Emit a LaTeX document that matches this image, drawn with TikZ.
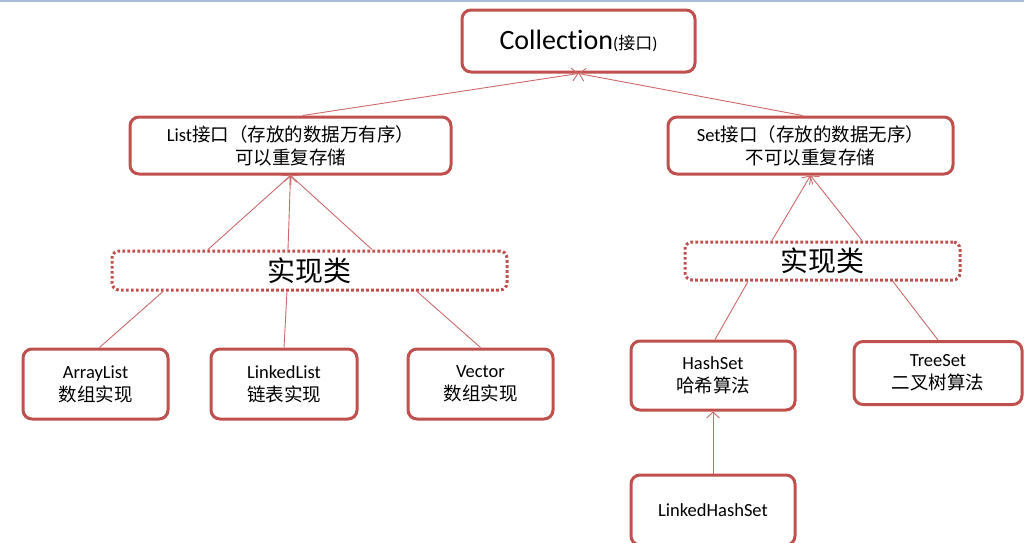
\documentclass[tikz,border=0pt]{standalone}
\usepackage{fontspec}
\setmainfont{Carlito}[Ligatures={NoCommon,NoRare,NoContextual}]
\newfontfamily\zhfont{Noto Sans CJK SC}
\newcommand\zh[1]{{\zhfont #1}}
\usetikzlibrary{arrows.meta}
\definecolor{boxred}{RGB}{192,80,77}
\definecolor{linkred}{RGB}{205,105,105}
\definecolor{topblue}{RGB}{168,188,216}
\tikzset{
  box/.style={draw=boxred, line width=3pt, rounded corners=9pt, fill=white,
    align=center, inner sep=0pt, font=\fontsize{18.5}{23}\selectfont},
  implbox/.style={draw=boxred, line width=3pt, dash pattern=on 2.6pt off 2.4pt,
    rounded corners=7pt, fill=white, inner sep=0pt, font=\zhfont\fontsize{28}{32}\selectfont},
  link/.style={draw=linkred, line width=0.9pt},
  arr/.style={link, -{Straight Barb[length=6pt,width=13pt]}}
}
\begin{document}
\begin{tikzpicture}[x=1pt,y=-1pt]
\useasboundingbox (0,0) rectangle (1024,542);
\clip (0,0) rectangle (1024,542);
\fill[topblue] (0,0) rectangle (1024,2);

\node[box, minimum width=233pt, minimum height=62pt] (coll) at (578.5,41)
  {{\fontsize{28}{32}\selectfont Collection}{\fontsize{17}{20}\selectfont(\zh{接口})}};
\node[box, minimum width=321pt, minimum height=57pt] (list) at (290.5,145.5)
  {List\zh{接口（存放的数据万有序）}\\\zh{可以重复存储}};
\node[box, minimum width=285pt, minimum height=57pt] (set) at (810.5,145.5)
  {Set\zh{接口（存放的数据无序）}\\\zh{不可以重复存储}};

\node[implbox, minimum width=395pt, minimum height=39pt] (impl1) at (309.5,270.5) {实现类};
\node[implbox, minimum width=275pt, minimum height=38pt] (impl2) at (822.5,261) {实现类};

\node[box, minimum width=145pt, minimum height=70pt] (al) at (95.5,384) {ArrayList\\\zh{数组实现}};
\node[box, minimum width=146pt, minimum height=70pt] (ll) at (284,384) {LinkedList\\\zh{链表实现}};
\node[box, minimum width=145pt, minimum height=70pt] (vec) at (480.5,384) {Vector\\\zh{数组实现}};
\node[box, minimum width=164pt, minimum height=69pt] (hs) at (713,375.5) {HashSet\\\zh{哈希算法}};
\node[box, minimum width=168pt, minimum height=63pt] (ts) at (938,373) {TreeSet\\\zh{二叉树算法}};
\node[box, minimum width=164pt, minimum height=70pt] (lhs) at (713,510) {LinkedHashSet};

% connectors
\draw[arr] ([xshift=12pt]list.north) -- (coll.south);
\draw[arr] ([xshift=-8pt]set.north) -- (coll.south);

\draw[arr] ([xshift=-101.5pt]impl1.north) -- (list.south);
\draw[arr] ([xshift=-21.5pt]impl1.north) -- (list.south);
\draw[arr] ([xshift=62.5pt]impl1.north) -- (list.south);

\draw[link] ([xshift=-146.5pt]impl1.south) -- ([xshift=4pt]al.north);
\draw[link] ([xshift=-22.5pt]impl1.south) -- (ll.north);
\draw[link] ([xshift=107.5pt]impl1.south) -- (vec.north);

\draw[arr] ([xshift=-50.5pt]impl2.north) -- (set.south);
\draw[arr] ([xshift=39.5pt]impl2.north) -- (set.south);

\draw[link] ([xshift=-74.5pt]impl2.south) -- ([xshift=2pt]hs.north);
\draw[link] ([xshift=70.5pt]impl2.south) -- (ts.north);

\draw[arr] (lhs.north) -- (hs.south);
\end{tikzpicture}
\end{document}
